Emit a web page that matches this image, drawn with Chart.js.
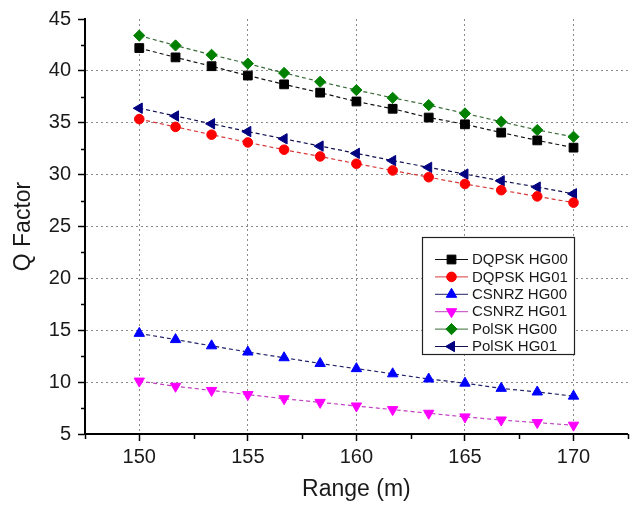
<!DOCTYPE html>
<html>
<head>
<meta charset="utf-8">
<script src="https://cdn.jsdelivr.net/npm/chart.js@4.4.1/dist/chart.umd.min.js"></script>
<style>
html,body{margin:0;padding:0;background:#fff;}
#wrap{width:635px;height:508px;}
canvas{display:block;}
</style>
</head>
<body>
<div id="wrap"><canvas id="c" width="635" height="508"></canvas></div>
<script>
// ---- data ----
const ranges = [150, 151.67, 153.33, 155, 156.67, 158.33, 160, 161.67, 163.33, 165, 166.67, 168.33, 170];
const dqpskHG00 = [42.2, 41.3, 40.45, 39.55, 38.7, 37.9, 37.05, 36.35, 35.5, 34.85, 34.05, 33.3, 32.6];
const dqpskHG01 = [35.35, 34.6, 33.85, 33.1, 32.4, 31.75, 31.05, 30.4, 29.75, 29.1, 28.5, 27.9, 27.3];
const csnrzHG00 = [14.7, 14.1, 13.5, 12.9, 12.35, 11.8, 11.3, 10.8, 10.3, 9.9, 9.4, 9.05, 8.65];
const csnrzHG01 = [10.1, 9.6, 9.2, 8.8, 8.4, 8.05, 7.7, 7.35, 7.0, 6.65, 6.35, 6.1, 5.85];
const polskHG00 = [43.4, 42.45, 41.55, 40.7, 39.8, 38.95, 38.15, 37.4, 36.7, 35.9, 35.1, 34.3, 33.65];
const polskHG01 = [36.4, 35.65, 34.9, 34.15, 33.45, 32.75, 32.05, 31.35, 30.7, 30.05, 29.4, 28.8, 28.15];
const seriesLabels = ['DQPSK HG00', 'DQPSK HG01', 'CSNRZ HG00', 'CSNRZ HG01', 'PolSK HG00', 'PolSK HG01'];
const xMajorTicks = [150, 155, 160, 165, 170];
const xMinorTicks = [147.5, 152.5, 157.5, 162.5, 167.5, 172.5];
const yMajorTicks = [5, 10, 15, 20, 25, 30, 35, 40, 45];
const yMinorTicks = [7.5, 12.5, 17.5, 22.5, 27.5, 32.5, 37.5, 42.5];
const xTitle = 'Range (m)';
const yTitle = 'Q Factor';

// ---- styles ----
const seriesValues = [dqpskHG00, dqpskHG01, csnrzHG00, csnrzHG01, polskHG00, polskHG01];
const styles = [
  {fill: '#000000', line: '#111111', shape: 'rect', rot: 0, r: 6.2},
  {fill: '#ff0000', line: '#d83a3a', shape: 'circle', rot: 0, r: 4.8},
  {fill: '#0000ff', line: '#22226a', shape: 'triangle', rot: 0, r: 6},
  {fill: '#ff00ff', line: '#c040c0', shape: 'triangle', rot: 180, r: 6},
  {fill: '#008000', line: '#3a6a3a', shape: 'rectRot', rot: 0, r: 5.6},
  {fill: '#000080', line: '#101050', shape: 'triangle', rot: 270, r: 6}
];

const datasets = seriesValues.map((vals, i) => ({
  label: seriesLabels[i],
  data: ranges.map((x, k) => ({x: x, y: vals[k]})),
  borderColor: styles[i].line,
  borderWidth: 1.2,
  borderDash: [4, 3],
  pointStyle: styles[i].shape,
  pointRotation: styles[i].rot,
  pointRadius: styles[i].r,
  pointHoverRadius: styles[i].r,
  pointBackgroundColor: styles[i].fill,
  pointBorderColor: styles[i].fill,
  pointBorderWidth: 1,
  fill: false,
  tension: 0
}));

Chart.defaults.font.family = "'Liberation Sans', Arial, sans-serif";
Chart.defaults.color = '#1a1a1a';

function drawMarker(ctx, st, x, y) {
  ctx.save();
  ctx.fillStyle = st.fill;
  ctx.strokeStyle = st.fill;
  ctx.lineWidth = 1;
  if (Chart.helpers && Chart.helpers.drawPoint) {
    Chart.helpers.drawPoint(ctx, {pointStyle: st.shape, rotation: st.rot, radius: st.r, borderWidth: 1}, x, y);
  } else {
    ctx.beginPath(); ctx.arc(x, y, st.r, 0, Math.PI * 2); ctx.fill();
  }
  ctx.restore();
}

const minorTicksPlugin = {
  id: 'minorTicks',
  afterDraw(chart) {
    const ctx = chart.ctx;
    const xs = chart.scales.x, ys = chart.scales.y;
    const area = chart.chartArea;
    ctx.save();
    ctx.strokeStyle = '#000';
    ctx.lineWidth = 1.5;
    ctx.beginPath();
    xMinorTicks.forEach(v => {
      const px = Math.round(xs.getPixelForValue(v)) + 0.5;
      ctx.moveTo(px, area.bottom);
      ctx.lineTo(px, area.bottom + 5);
    });
    yMinorTicks.forEach(v => {
      const py = Math.round(ys.getPixelForValue(v)) + 0.5;
      ctx.moveTo(area.left, py);
      ctx.lineTo(area.left - 4, py);
    });
    ctx.stroke();
    ctx.restore();
  }
};

const legendPlugin = {
  id: 'boxLegend',
  afterDraw(chart) {
    const ctx = chart.ctx;
    const bx = 422, by = 237, bw = 152, bh = 117;
    ctx.save();
    ctx.fillStyle = '#ffffff';
    ctx.fillRect(bx, by, bw, bh);
    ctx.strokeStyle = '#222';
    ctx.lineWidth = 1.2;
    ctx.strokeRect(bx + 0.5, by + 0.5, bw, bh);
    ctx.font = "15px 'Liberation Sans', Arial, sans-serif";
    ctx.textBaseline = 'middle';
    ctx.textAlign = 'left';
    chart.data.datasets.forEach((ds, i) => {
      const y = 259.5 + i * 17.4;
      const st = styles[i];
      ctx.strokeStyle = st.line;
      ctx.lineWidth = 1;
      ctx.setLineDash([]);
      ctx.beginPath();
      ctx.moveTo(435, y); ctx.lineTo(468, y);
      ctx.stroke();
      drawMarker(ctx, st, 451.5, y);
      ctx.fillStyle = '#1a1a1a';
      ctx.fillText(ds.label, 472, y + 0.5);
    });
    ctx.restore();
  }
};

new Chart(document.getElementById('c'), {
  type: 'line',
  data: {datasets: datasets},
  plugins: [minorTicksPlugin, legendPlugin],
  options: {
    responsive: false,
    animation: false,
    devicePixelRatio: 1,
    layout: {padding: {left: 0, right: 4, top: 15, bottom: 0}},
    plugins: {legend: {display: false}, tooltip: {enabled: false}},
    scales: {
      x: {
        type: 'linear',
        min: 147.5,
        max: 172.5,
        afterBuildTicks: s => { s.ticks = xMajorTicks.map(v => ({value: v})); },
        afterFit: s => { s.height = 74; },
        ticks: {font: {size: 20}, color: '#1a1a1a', padding: 4, maxRotation: 0, callback: v => String(v)},
        grid: {
          color: '#8a8a8a',
          lineWidth: 1,
          tickColor: '#000',
          tickLength: 7,
          tickWidth: 1.5
        },
        border: {display: true, color: '#000', width: 2, dash: [2, 3]},
        title: {display: true, text: xTitle, font: {size: 23}, color: '#1a1a1a', padding: {top: 0, bottom: 5}}
      },
      y: {
        type: 'linear',
        min: 5,
        max: 45,
        afterBuildTicks: s => { s.ticks = yMajorTicks.map(v => ({value: v})); },
        afterFit: s => { s.width = 85; },
        ticks: {font: {size: 20}, color: '#1a1a1a', padding: 7, callback: v => String(v)},
        grid: {
          color: c => (c.tick && c.tick.value > 5 && c.tick.value < 45) ? '#8a8a8a' : 'rgba(0,0,0,0)',
          lineWidth: 1,
          tickColor: '#000',
          tickLength: 7,
          tickWidth: 1.5
        },
        border: {display: true, color: '#000', width: 2, dash: [2, 3]},
        title: {display: true, text: yTitle, font: {size: 23}, color: '#1a1a1a', padding: {top: 10, bottom: 0}}
      }
    }
  }
});
</script>
</body>
</html>
